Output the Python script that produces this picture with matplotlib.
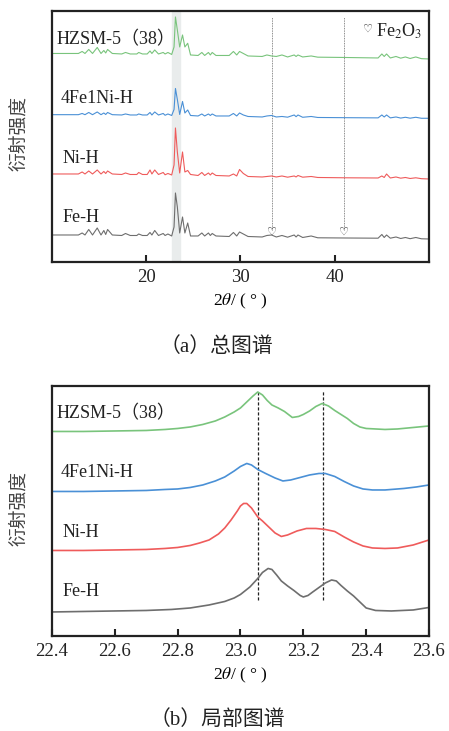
#!/usr/bin/env python3
import matplotlib
matplotlib.use("Agg")
import matplotlib.pyplot as plt
import matplotlib.transforms as mtransforms

# 字體：西文用 Times 類字體，中文退回 Noto Sans CJK
plt.rcParams['font.family'] = ['Liberation Serif', 'Noto Sans CJK SC']
plt.rcParams['mathtext.fontset'] = 'stix'

samples = ["HZSM-5（38）", "4Fe1Ni-H", "Ni-H", "Fe-H"]
colors = ["#79c47c", "#4a90d6", "#ef5b5b", "#6e6e6e"]

# ---- (a) 總圖譜 ----
two_theta_a = [10.0, 12.8, 13.2, 13.5, 13.9, 14.3, 14.8, 15.2, 15.5, 15.7,
               15.9, 16.4, 17.4, 17.8, 18.3, 19.0, 19.2, 19.6, 20.1, 20.4,
               20.6, 20.9, 21.3, 21.8, 22.0, 22.3, 22.7, 22.95, 23.1, 23.3,
               23.55, 23.85, 24.1, 24.4, 24.7, 25.5, 25.9, 26.2, 26.6, 26.8,
               27.0, 27.4, 28.8, 29.25, 29.6, 29.9, 30.3, 30.8, 32.3, 32.8,
               33.3, 33.8, 34.4, 35.0, 35.7, 35.9, 36.1, 36.6, 37.5, 38.2,
               41.0, 44.6, 45.0, 45.25, 45.5, 45.9, 46.5, 47.0, 47.5, 48.0,
               48.6, 49.2, 50.0]
int_hzsm_a = [5.5, 5.5, 7.5, 5.5, 9.5, 5.5, 11.5, 5.5, 8.5, 6,
              9.5, 5.5, 5, 6.5, 5, 5, 6.5, 5, 5, 8,
              5.5, 9, 5, 6.5, 5, 6.5, 4.5, 12, 42, 29,
              12, 24, 12, 15.7, 4, 3.5, 6.5, 3.5, 6.5, 4,
              6.5, 3.5, 3.5, 7.5, 4, 7.5, 5.5, 3, 2.5, 4,
              3, 2.5, 4, 2, 4, 2.5, 4, 2, 3, 1.8,
              1.5, 1, 5, 2.5, 5, 1, 2.5, 0.8, 2, 0.5,
              2, 0.3, 0]
int_fe1ni_a = [3.8, 3.8, 5, 3.8, 6, 3.8, 6.5, 3.8, 5.5, 4,
               6, 3.8, 3.5, 4.5, 3.5, 3.5, 4.5, 3.5, 3.5, 6,
               3.5, 6.5, 3.5, 5, 3.2, 4.5, 3, 9, 30, 19,
               4, 17, 5.5, 8.5, 3, 2.5, 4.5, 2.5, 4.5, 3,
               4.5, 2.5, 2.5, 5, 2.5, 5.5, 3.5, 2, 1.5, 2.5,
               3, 1.5, 2, 1.3, 3.5, 1.8, 3.5, 1.2, 2, 1,
               0.8, 0.6, 3.5, 1.5, 3.5, 0.6, 1.5, 0.4, 1.2, 0.3,
               1.2, 0.2, 0.2]
int_ni_a = [5, 5, 7, 5, 8, 5, 9, 5, 7.5, 5.5,
            8, 5, 4.5, 6, 4.5, 4.5, 6.5, 4.5, 4.5, 9,
            5, 9, 4.5, 6.5, 4.2, 5.5, 4, 14, 51, 27,
            6, 27, 7, 8.5, 4.5, 3.5, 6.5, 3.5, 6, 4,
            6, 3.5, 3, 5, 3, 9.5, 5.5, 2.5, 2, 2.5,
            3, 2, 3, 1.8, 3, 2, 3.5, 1.8, 2.5, 1.5,
            1.2, 1, 3, 1.5, 5, 1, 2, 0.8, 1.5, 0.5,
            1.2, 0.3, 0]
int_fe_a = [4, 4, 6, 4, 9.5, 4, 11, 4, 8.5, 4.5,
            9.5, 4, 3.5, 5.5, 3.5, 3.5, 5, 3.5, 3.5, 6.5,
            4, 8.5, 3.5, 5.5, 3.5, 5, 3, 12, 46, 32,
            6, 22, 6, 16, 3, 3, 6, 3, 6, 3.5,
            5.5, 3, 2.5, 6.5, 3, 7, 5, 2.5, 2, 3.5,
            4, 2, 3.5, 1.8, 4, 2, 4, 1.5, 3, 1.2,
            1, 0.8, 4.5, 1.5, 4, 0.8, 2, 0.5, 1.5, 0.3,
            1.5, 0.2, 0]
offsets_a = [203, 143.5, 83, 23]
fe2o3_peaks = [33.3, 41.0]

# ---- (b) 局部圖譜（已疊加位移後的讀值）----
tt_hzsm_b = [22.40, 22.50, 22.60, 22.70, 22.76, 22.80, 22.84, 22.88, 22.92,
             22.95, 22.98, 23.00, 23.02, 23.04, 23.055, 23.07, 23.085, 23.10,
             23.12, 23.14, 23.165, 23.185, 23.20, 23.22, 23.24, 23.26, 23.28,
             23.30, 23.32, 23.34, 23.36, 23.38, 23.40, 23.43, 23.46, 23.50,
             23.55, 23.60]
int_hzsm_b = [204.5, 204.5, 205, 205.5, 206.5, 207.5, 209, 211.5, 215,
              219, 224, 228, 234, 240, 244, 241, 235.5, 231,
              228, 224.5, 218.5, 219.5, 221.5, 225, 229.5, 232.5, 230,
              225.5, 221.5, 217.5, 212.5, 209, 207.5, 207, 206.5, 207,
              208.5, 210]
tt_fe1ni_b = [22.40, 22.50, 22.60, 22.70, 22.76, 22.80, 22.84, 22.88, 22.92,
              22.95, 22.98, 23.00, 23.02, 23.035, 23.055, 23.08, 23.11, 23.135,
              23.16, 23.19, 23.22, 23.25, 23.27, 23.30, 23.33, 23.36, 23.39,
              23.42, 23.46, 23.52, 23.56, 23.60]
int_fe1ni_b = [144.5, 144.5, 145, 145.5, 146.5, 147, 148.5, 151, 155,
               159, 165, 169.5, 172.5, 171, 166.5, 162.5, 158, 155,
               156, 158.5, 161, 162.5, 162.5, 159.5, 154.5, 150, 147,
               146, 146, 147.5, 149, 151]
tt_ni_b = [22.40, 22.50, 22.60, 22.70, 22.76, 22.80, 22.84, 22.87, 22.90,
           22.93, 22.95, 22.97, 22.99, 23.00, 23.01, 23.02, 23.035, 23.055,
           23.07, 23.09, 23.11, 23.13, 23.15, 23.18, 23.21, 23.24, 23.27,
           23.30, 23.33, 23.36, 23.39, 23.42, 23.46, 23.50, 23.55, 23.60]
int_ni_b = [85.5, 85.5, 86, 86.5, 87.5, 88.5, 90.5, 93, 96,
            102, 108, 116, 125, 130, 132.5, 132.5, 128, 119,
            115, 109, 103, 99.5, 101, 105, 107.5, 107.5, 106.5,
            104.5, 99, 94, 90, 88, 87.5, 88, 91, 96]
tt_fe_b = [22.40, 22.50, 22.60, 22.70, 22.78, 22.84, 22.90, 22.95, 22.98,
           23.00, 23.03, 23.055, 23.07, 23.088, 23.10, 23.115, 23.13, 23.15,
           23.17, 23.19, 23.20, 23.215, 23.23, 23.25, 23.27, 23.29, 23.305,
           23.32, 23.34, 23.36, 23.38, 23.40, 23.43, 23.48, 23.55, 23.60]
int_fe_b = [24, 24.5, 25, 25.5, 26.5, 28, 31, 34.5, 38,
            41.5, 49, 57.5, 63.5, 67.5, 66.5, 61, 55, 50,
            45.5, 40.5, 39, 40.5, 44, 48.5, 53, 56, 55,
            50.5, 45, 40, 34, 28, 25.5, 25, 26, 28.5]
ref_lines_b = [23.055, 23.262]
ticks_b = [22.4, 22.6, 22.8, 23.0, 23.2, 23.4, 23.6]


def style_axes(ax):
    """框線加粗、刻度朝內、無 y 刻度"""
    for sp in ax.spines.values():
        sp.set_linewidth(1.6)
        sp.set_color("#222222")
    ax.set_yticks([])
    ax.tick_params(axis='x', direction='in', length=5, width=1.5,
                   labelsize=13.5, pad=5, colors="#222222")
    # mathtext 裡沒有全形括號，用空格模擬
    ax.set_xlabel(r"2$\theta$/ ( ° )", fontsize=12.5, labelpad=4)
    ax.set_ylabel("衍射强度", family=['Noto Sans CJK SC'], fontsize=13.5,
                  color="#444444")
    ax.yaxis.set_label_coords(-0.06, 0.51)


def add_labels(ax):
    trans = mtransforms.blended_transform_factory(ax.transAxes, ax.transData)
    xs = [0.011, 0.024, 0.027, 0.029]
    ys = [222, 163, 103, 44]
    for name, x, y in zip(samples, xs, ys):
        ax.text(x, y, name, transform=trans, fontsize=13, va='center',
                ha='left', color="#222222")


fig = plt.figure(figsize=(4.49, 7.31), dpi=100)

# (a)
ax1 = fig.add_axes([0.1158, 0.6416, 0.8396, 0.3434])
ax1.axvspan(22.7, 23.6, color="#e9ecec", zorder=0)
for x in fe2o3_peaks:
    ax1.plot([x, x], [32, 245], color="#666666", lw=0.6, ls=(0, (1, 1)), zorder=1)
    ax1.text(x, 30, "♡", family=['DejaVu Sans'], fontsize=8, ha='center',
             va='center', color="#333333")
series_a = [int_hzsm_a, int_fe1ni_a, int_ni_a, int_fe_a]
for vals, off, c in zip(series_a, offsets_a, colors):
    ax1.plot(two_theta_a, [v + off for v in vals], color=c, lw=0.8, zorder=2)
ax1.text(43.5, 233, "♡", family=['DejaVu Sans'], fontsize=8, ha='center',
         va='center', color="#333333")
ax1.text(44.4, 231, r"Fe$_2$O$_3$", fontsize=13, ha='left', va='center',
         color="#222222")
ax1.set_xlim(10, 50)
ax1.set_ylim(0, 251)
ax1.set_xticks([20, 30, 40])
style_axes(ax1)
add_labels(ax1)

# (b)
ax2 = fig.add_axes([0.1158, 0.130, 0.8396, 0.342])
for x in ref_lines_b:
    ax2.plot([x, x], [36, 245], color="#222222", lw=0.9, ls=(0, (2.5, 1.5)), zorder=1)
series_b = [(tt_hzsm_b, int_hzsm_b), (tt_fe1ni_b, int_fe1ni_b),
            (tt_ni_b, int_ni_b), (tt_fe_b, int_fe_b)]
for (xs, ys), c in zip(series_b, colors):
    ax2.plot(xs, ys, color=c, lw=1.2, zorder=2)
ax2.set_xlim(22.4, 23.6)
ax2.set_ylim(0, 250)
ax2.set_xticks(ticks_b)
ax2.set_xticklabels([f"{t:.1f}" for t in ticks_b])
style_axes(ax2)
add_labels(ax2)

fig.text(216 / 449, 1 - 347 / 731, "（a）总图谱", fontsize=15, ha='center',
         va='center', color="#222222")
fig.text(217 / 449, 1 - 720 / 731, "（b）局部图谱", fontsize=15, ha='center',
         va='center', color="#222222")

fig.savefig("out.png", dpi=100)
